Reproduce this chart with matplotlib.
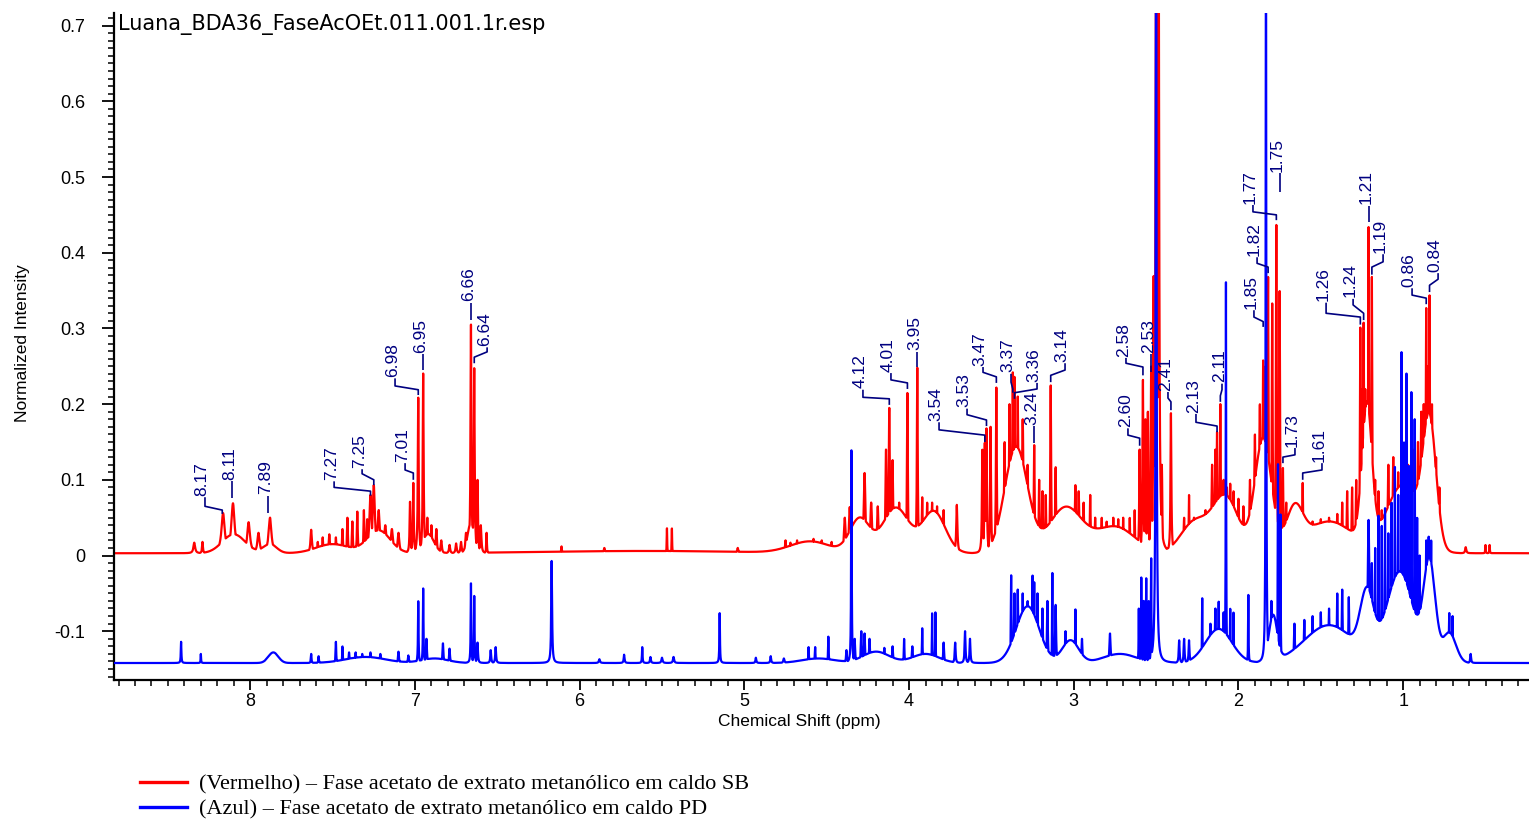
import numpy as np
import matplotlib
matplotlib.use("Agg")
import matplotlib.pyplot as plt
from matplotlib.lines import Line2D
from matplotlib.ticker import MultipleLocator, FuncFormatter

plt.rcParams["font.family"] = ["Liberation Sans", "DejaVu Sans"]
plt.rcParams["axes.unicode_minus"] = False

TITLE = "Luana_BDA36_FaseAcOEt.011.001.1r.esp"
SERIES_NAMES = [
    "(Vermelho) \u2013 Fase acetato de extrato metanólico em caldo SB",
    "(Azul) \u2013 Fase acetato de extrato metanólico em caldo PD",
]

# baseline level of each trace (normalized intensity)
red_base = 0.003
blue_base = -0.142

# broad envelopes: (ppm, height above baseline, sigma)
red_humps = [
    (8.10, 0.025, 0.07), (7.88, 0.012, 0.04), (7.50, 0.012, 0.10), (7.22, 0.030, 0.07),
    (6.92, 0.025, 0.035), (6.66, 0.040, 0.02), (5.60, 0.003, 0.60), (4.60, 0.015, 0.12),
    (4.30, 0.045, 0.06), (4.08, 0.060, 0.08), (3.85, 0.055, 0.07), (3.35, 0.140, 0.07),
    (3.05, 0.060, 0.10), (2.75, 0.035, 0.12), (2.27, 0.040, 0.08), (2.08, 0.075, 0.08),
    (1.85, 0.150, 0.05), (1.66, 0.050, 0.05), (1.45, 0.042, 0.15), (1.22, 0.180, 0.03),
    (1.00, 0.090, 0.10), (0.84, 0.160, 0.04),
]
blue_humps = [
    (7.86, 0.014, 0.03), (7.30, 0.008, 0.12), (6.88, 0.006, 0.08), (4.55, 0.006, 0.10),
    (4.20, 0.015, 0.08), (3.90, 0.012, 0.08), (3.28, 0.075, 0.07), (3.02, 0.030, 0.05),
    (2.72, 0.012, 0.10), (2.12, 0.045, 0.08), (1.79, 0.060, 0.025), (1.45, 0.050, 0.15),
    (1.22, 0.080, 0.04), (1.02, 0.120, 0.08), (0.84, 0.130, 0.035), (0.72, 0.040, 0.04),
]

# resolved lines: (ppm, apex intensity, half width)
red_peaks = [
    (8.34, 0.017, 0.006), (8.29, 0.018, 0.003), (8.165, 0.056, 0.012), (8.105, 0.069, 0.012),
    (8.01, 0.044, 0.010), (7.95, 0.030, 0.008), (7.88, 0.050, 0.010), (7.63, 0.034, 0.005),
    (7.59, 0.018, 0.003), (7.56, 0.024, 0.003), (7.52, 0.028, 0.004), (7.48, 0.024, 0.003),
    (7.44, 0.035, 0.003), (7.41, 0.050, 0.003), (7.38, 0.045, 0.003), (7.35, 0.058, 0.003),
    (7.31, 0.060, 0.003), (7.29, 0.048, 0.004), (7.27, 0.080, 0.008), (7.25, 0.093, 0.008),
    (7.22, 0.060, 0.008), (7.18, 0.040, 0.008), (7.14, 0.035, 0.008), (7.10, 0.030, 0.006),
    (7.03, 0.071, 0.003), (7.01, 0.096, 0.003), (6.98, 0.209, 0.003), (6.95, 0.241, 0.003),
    (6.925, 0.050, 0.004), (6.90, 0.040, 0.004), (6.87, 0.035, 0.004), (6.84, 0.020, 0.004),
    (6.79, 0.014, 0.004), (6.75, 0.016, 0.004), (6.72, 0.018, 0.004), (6.69, 0.030, 0.005),
    (6.66, 0.306, 0.003), (6.64, 0.248, 0.003), (6.62, 0.100, 0.003), (6.60, 0.040, 0.004),
    (6.565, 0.030, 0.002), (6.11, 0.012, 0.002), (5.85, 0.010, 0.004), (5.47, 0.036, 0.0015),
    (5.44, 0.036, 0.0015), (5.04, 0.010, 0.004), (4.75, 0.020, 0.003), (4.72, 0.017, 0.003),
    (4.68, 0.020, 0.003), (4.64, 0.018, 0.003), (4.58, 0.022, 0.003), (4.53, 0.020, 0.003),
    (4.47, 0.018, 0.003), (4.39, 0.050, 0.006), (4.36, 0.064, 0.006), (4.27, 0.109, 0.006),
    (4.23, 0.070, 0.006), (4.19, 0.065, 0.005), (4.14, 0.140, 0.004), (4.12, 0.195, 0.004),
    (4.10, 0.126, 0.004), (4.06, 0.070, 0.004), (4.01, 0.215, 0.003), (3.95, 0.248, 0.003),
    (3.92, 0.077, 0.003), (3.89, 0.070, 0.003), (3.86, 0.070, 0.003), (3.83, 0.065, 0.003),
    (3.79, 0.060, 0.003), (3.71, 0.067, 0.004), (3.555, 0.140, 0.003), (3.54, 0.149, 0.003),
    (3.53, 0.168, 0.003), (3.505, 0.170, 0.003), (3.47, 0.222, 0.003), (3.42, 0.150, 0.004),
    (3.39, 0.200, 0.004), (3.37, 0.242, 0.004), (3.36, 0.236, 0.004), (3.34, 0.210, 0.004),
    (3.31, 0.180, 0.005), (3.28, 0.120, 0.004), (3.24, 0.146, 0.003), (3.21, 0.100, 0.003),
    (3.19, 0.085, 0.003), (3.17, 0.080, 0.003), (3.14, 0.225, 0.003), (3.11, 0.117, 0.003),
    (3.08, 0.060, 0.003), (3.03, 0.060, 0.003), (2.99, 0.093, 0.004), (2.97, 0.085, 0.004),
    (2.94, 0.070, 0.003), (2.90, 0.080, 0.003), (2.87, 0.050, 0.003), (2.83, 0.050, 0.002),
    (2.80, 0.045, 0.002), (2.76, 0.050, 0.002), (2.73, 0.048, 0.002), (2.70, 0.050, 0.002),
    (2.66, 0.050, 0.002), (2.63, 0.060, 0.002), (2.60, 0.140, 0.003), (2.58, 0.232, 0.003),
    (2.565, 0.180, 0.003), (2.55, 0.190, 0.003), (2.53, 0.250, 0.003), (2.515, 0.370, 0.003),
    (2.50, 0.900, 0.004), (2.485, 0.900, 0.004), (2.465, 0.120, 0.003), (2.41, 0.188, 0.003),
    (2.33, 0.050, 0.003), (2.30, 0.080, 0.002), (2.27, 0.050, 0.003), (2.24, 0.050, 0.003),
    (2.20, 0.060, 0.004), (2.16, 0.120, 0.004), (2.14, 0.140, 0.003), (2.13, 0.163, 0.003),
    (2.11, 0.200, 0.003), (2.09, 0.100, 0.003), (2.07, 0.090, 0.003), (2.05, 0.095, 0.004),
    (2.03, 0.085, 0.004), (2.00, 0.075, 0.004), (1.97, 0.065, 0.004), (1.93, 0.100, 0.004),
    (1.90, 0.160, 0.004), (1.87, 0.200, 0.004), (1.85, 0.258, 0.003), (1.835, 0.250, 0.003),
    (1.82, 0.368, 0.003), (1.795, 0.333, 0.003), (1.77, 0.437, 0.003), (1.75, 0.350, 0.003),
    (1.73, 0.116, 0.003), (1.71, 0.070, 0.004), (1.68, 0.060, 0.004), (1.65, 0.065, 0.004),
    (1.61, 0.096, 0.003), (1.55, 0.045, 0.003), (1.50, 0.048, 0.003), (1.45, 0.050, 0.003),
    (1.40, 0.055, 0.003), (1.37, 0.070, 0.003), (1.34, 0.085, 0.003), (1.31, 0.090, 0.003),
    (1.285, 0.100, 0.003), (1.26, 0.302, 0.003), (1.25, 0.220, 0.003), (1.24, 0.308, 0.003),
    (1.23, 0.220, 0.003), (1.21, 0.434, 0.003), (1.19, 0.368, 0.003), (1.17, 0.100, 0.003),
    (1.15, 0.085, 0.003), (1.13, 0.060, 0.003), (1.09, 0.120, 0.004), (1.06, 0.130, 0.004),
    (1.03, 0.110, 0.004), (1.00, 0.100, 0.004), (0.97, 0.120, 0.004), (0.94, 0.140, 0.004),
    (0.91, 0.150, 0.004), (0.89, 0.190, 0.004), (0.875, 0.200, 0.004), (0.86, 0.327, 0.003),
    (0.85, 0.250, 0.003), (0.84, 0.344, 0.003), (0.825, 0.200, 0.004), (0.80, 0.130, 0.004),
    (0.78, 0.090, 0.004), (0.62, 0.011, 0.004), (0.50, 0.014, 0.0015), (0.475, 0.014, 0.0015),
]
blue_peaks = [
    (8.42, -0.114, 0.002), (8.30, -0.130, 0.0015), (7.63, -0.130, 0.002), (7.585, -0.133, 0.002),
    (7.48, -0.114, 0.002), (7.44, -0.120, 0.002), (7.40, -0.128, 0.003), (7.36, -0.128, 0.003),
    (7.32, -0.130, 0.003), (7.27, -0.128, 0.004), (7.21, -0.130, 0.004), (7.10, -0.127, 0.003),
    (7.04, -0.132, 0.003), (6.98, -0.060, 0.002), (6.95, -0.043, 0.002), (6.93, -0.110, 0.003),
    (6.83, -0.116, 0.003), (6.79, -0.123, 0.003), (6.66, -0.036, 0.002), (6.64, -0.053, 0.002),
    (6.62, -0.115, 0.003), (6.54, -0.125, 0.003), (6.51, -0.121, 0.003), (6.17, -0.007, 0.003),
    (5.88, -0.137, 0.004), (5.73, -0.131, 0.003), (5.62, -0.121, 0.002), (5.57, -0.134, 0.003),
    (5.50, -0.135, 0.004), (5.43, -0.134, 0.004), (5.15, -0.076, 0.002), (4.93, -0.135, 0.003),
    (4.84, -0.133, 0.003), (4.76, -0.136, 0.004), (4.61, -0.121, 0.002), (4.57, -0.121, 0.002),
    (4.49, -0.107, 0.002), (4.38, -0.125, 0.003), (4.35, 0.141, 0.002), (4.33, -0.110, 0.003),
    (4.29, -0.100, 0.003), (4.27, -0.103, 0.003), (4.24, -0.110, 0.003), (4.15, -0.122, 0.003),
    (4.10, -0.120, 0.003), (4.03, -0.110, 0.002), (3.98, -0.120, 0.003), (3.92, -0.096, 0.002),
    (3.86, -0.076, 0.0015), (3.84, -0.075, 0.0015), (3.79, -0.115, 0.003), (3.72, -0.115, 0.003),
    (3.66, -0.100, 0.003), (3.63, -0.110, 0.003), (3.38, -0.026, 0.002), (3.36, -0.050, 0.003),
    (3.34, -0.045, 0.003), (3.31, -0.050, 0.003), (3.28, -0.060, 0.003), (3.25, -0.026, 0.002),
    (3.24, -0.035, 0.002), (3.22, -0.050, 0.003), (3.19, -0.070, 0.003), (3.16, -0.060, 0.003),
    (3.13, -0.022, 0.0015), (3.11, -0.065, 0.003), (3.05, -0.100, 0.003), (2.99, -0.071, 0.002),
    (2.95, -0.110, 0.003), (2.78, -0.103, 0.004), (2.605, -0.070, 0.0015), (2.59, -0.029, 0.0015),
    (2.575, -0.060, 0.0015), (2.56, -0.030, 0.0015), (2.545, -0.060, 0.0015), (2.53, -0.003, 0.0015),
    (2.50, 0.900, 0.003), (2.36, -0.112, 0.003), (2.33, -0.110, 0.003), (2.30, -0.112, 0.003),
    (2.22, -0.056, 0.0015), (2.17, -0.090, 0.003), (2.14, -0.070, 0.003), (2.12, -0.061, 0.002),
    (2.09, -0.075, 0.002), (2.076, 0.361, 0.0015), (2.05, -0.070, 0.002), (2.03, -0.075, 0.002),
    (1.94, -0.052, 0.0015), (1.833, 0.900, 0.002), (1.80, -0.060, 0.003), (1.76, 0.122, 0.0015),
    (1.745, 0.056, 0.0015), (1.66, -0.090, 0.003), (1.60, -0.085, 0.003), (1.55, -0.080, 0.003),
    (1.50, -0.075, 0.003), (1.45, -0.070, 0.003), (1.40, -0.050, 0.003), (1.37, -0.045, 0.003),
    (1.33, -0.055, 0.003), (1.21, 0.047, 0.006), (1.19, -0.010, 0.003), (1.17, 0.010, 0.002),
    (1.15, 0.053, 0.002), (1.13, 0.040, 0.002), (1.11, 0.064, 0.002), (1.09, 0.030, 0.002),
    (1.07, 0.070, 0.002), (1.05, 0.117, 0.002), (1.03, 0.080, 0.002), (1.01, 0.269, 0.002),
    (0.995, 0.150, 0.002), (0.98, 0.242, 0.002), (0.965, 0.120, 0.002), (0.95, 0.218, 0.002),
    (0.93, 0.181, 0.002), (0.915, 0.050, 0.002), (0.90, 0.000, 0.003), (0.86, 0.020, 0.003),
    (0.845, 0.025, 0.003), (0.83, 0.020, 0.003), (0.72, -0.076, 0.002), (0.70, -0.080, 0.002),
    (0.59, -0.130, 0.003),
]

# peak picking: (label, label ppm, text bottom, kink top, kink bottom, tip)
peak_labels = [
    ("8.17", 8.275, 0.077, 0.065, 0.060, 0.055),
    ("8.11", 8.110, 0.098, 0.076, 0.076, 0.076),
    ("7.89", 7.890, 0.079, 0.056, 0.056, 0.056),
    ("7.27", 7.491, 0.098, 0.090, 0.085, 0.079),
    ("7.25", 7.321, 0.114, 0.108, 0.100, 0.093),
    ("7.01", 7.060, 0.122, 0.113, 0.109, 0.100),
    ("6.98", 7.121, 0.234, 0.224, 0.219, 0.212),
    ("6.95", 6.950, 0.266, 0.245, 0.245, 0.245),
    ("6.66", 6.660, 0.334, 0.311, 0.311, 0.311),
    ("6.64", 6.562, 0.275, 0.269, 0.262, 0.254),
    ("4.12", 4.280, 0.219, 0.209, 0.207, 0.199),
    ("4.01", 4.110, 0.241, 0.232, 0.228, 0.220),
    ("3.95", 3.950, 0.269, 0.249, 0.249, 0.249),
    ("3.54", 3.818, 0.176, 0.166, 0.159, 0.150),
    ("3.53", 3.648, 0.194, 0.186, 0.179, 0.171),
    ("3.47", 3.551, 0.249, 0.242, 0.236, 0.228),
    ("3.37", 3.381, 0.240, 0.229, 0.220, 0.215),
    ("3.36", 3.223, 0.228, 0.220, 0.215, 0.207),
    ("3.24", 3.240, 0.171, 0.149, 0.149, 0.149),
    ("3.14", 3.053, 0.254, 0.245, 0.238, 0.229),
    ("2.60", 2.671, 0.168, 0.159, 0.155, 0.145),
    ("2.58", 2.683, 0.261, 0.254, 0.249, 0.238),
    ("2.53", 2.530, 0.266, 0.242, 0.242, 0.242),
    ("2.41", 2.428, 0.216, 0.208, 0.203, 0.192),
    ("2.13", 2.258, 0.187, 0.176, 0.171, 0.163),
    ("2.11", 2.100, 0.227, 0.219, 0.211, 0.203),
    ("1.85", 1.906, 0.324, 0.315, 0.309, 0.302),
    ("1.82", 1.887, 0.394, 0.386, 0.381, 0.373),
    ("1.77", 1.912, 0.463, 0.454, 0.450, 0.443),
    ("1.75", 1.750, 0.505, 0.480, 0.480, 0.480),
    ("1.73", 1.657, 0.142, 0.133, 0.130, 0.122),
    ("1.61", 1.493, 0.122, 0.113, 0.109, 0.100),
    ("1.26", 1.468, 0.334, 0.320, 0.315, 0.305),
    ("1.24", 1.304, 0.339, 0.331, 0.320, 0.311),
    ("1.21", 1.210, 0.462, 0.441, 0.441, 0.441),
    ("1.19", 1.122, 0.398, 0.388, 0.381, 0.371),
    ("0.86", 0.946, 0.353, 0.344, 0.340, 0.332),
    ("0.84", 0.788, 0.373, 0.365, 0.357, 0.348),
]

PPM_LEFT, PPM_RIGHT = 8.827, 0.236
Y_MIN, Y_MAX = -0.1645, 0.7167
LABEL_COLOR = "#000080"


def build_trace(ppm, base, humps, peaks):
    """Gaussian envelope plus Lorentzian lines sitting on a flat baseline."""
    envelope = np.zeros_like(ppm)
    for centre, height, sigma in humps:
        envelope += height * np.exp(-0.5 * ((ppm - centre) / sigma) ** 2)
    top = envelope.copy()
    for centre, apex, hw in peaks:
        top = np.maximum(top, (apex - base) / (1.0 + ((ppm - centre) / hw) ** 2))
    return base + top


def draw_peak_labels(ax, labels):
    for text, lx, y_text, y_k1, y_k2, y_tip in labels:
        px = float(text)
        ax.plot([lx, lx, px, px], [y_text, y_k1, y_k2, y_tip],
                color=LABEL_COLOR, lw=1.2, solid_capstyle="butt", zorder=4)
        ax.annotate(text, xy=(lx, y_text), xytext=(-2, 1), textcoords="offset points",
                    rotation=90, ha="center", va="bottom", fontsize=12.5,
                    color=LABEL_COLOR, zorder=5)


def main():
    ppm = np.linspace(PPM_RIGHT, PPM_LEFT, 24000)
    red = build_trace(ppm, red_base, red_humps, red_peaks)
    blue = build_trace(ppm, blue_base, blue_humps, blue_peaks)

    fig = plt.figure(figsize=(15.29, 8.21), dpi=100)
    ax = fig.add_axes([0.0746, 0.1717, 0.9254, 0.8125])

    ax.plot(ppm, red, color="#ff0000", lw=1.6, zorder=2)
    ax.plot(ppm, blue, color="#0000ff", lw=1.6, zorder=3)
    draw_peak_labels(ax, peak_labels)

    ax.set_xlim(PPM_LEFT, PPM_RIGHT)
    ax.set_ylim(Y_MIN, Y_MAX)
    for side in ("top", "right"):
        ax.spines[side].set_visible(False)
    for side in ("left", "bottom"):
        ax.spines[side].set_linewidth(1.6)

    ax.xaxis.set_major_locator(MultipleLocator(1))
    ax.xaxis.set_minor_locator(MultipleLocator(0.1))
    ax.yaxis.set_major_locator(MultipleLocator(0.1))
    ax.yaxis.set_minor_locator(MultipleLocator(0.01))
    ax.yaxis.set_major_formatter(FuncFormatter(lambda v, _: f"{round(v, 2):g}"))
    ax.xaxis.set_major_formatter(FuncFormatter(lambda v, _: f"{v:g}"))
    ax.tick_params(axis="both", which="major", direction="out", width=1.3, labelsize=13)
    ax.tick_params(axis="x", which="major", length=7, pad=2)
    ax.tick_params(axis="x", which="minor", length=4, width=1.1)
    ax.tick_params(axis="y", which="major", length=8.5, pad=12)
    ax.tick_params(axis="y", which="minor", length=4.5, width=1.1)

    ax.set_xlabel("Chemical Shift (ppm)", fontsize=12.5)
    ax.xaxis.set_label_coords(0.484, -0.051)
    ax.set_ylabel("Normalized Intensity", fontsize=12.5)
    ax.yaxis.set_label_coords(-0.0594, 0.505)

    ax.text(0.003, 0.982, TITLE, transform=ax.transAxes, ha="left", va="center",
            fontsize=15, family="DejaVu Sans")

    handles = [Line2D([], [], color="#ff0000", lw=2.4),
               Line2D([], [], color="#0000ff", lw=2.4)]
    fig.legend(handles, SERIES_NAMES, loc="upper left", bbox_to_anchor=(0.0916, 0.057),
               frameon=False, borderpad=0, borderaxespad=0, handlelength=2.12,
               handletextpad=0.55, labelspacing=0.19,
               prop={"family": "Liberation Serif", "size": 16})

    fig.savefig("out.png", dpi=100)


if __name__ == "__main__":
    main()
